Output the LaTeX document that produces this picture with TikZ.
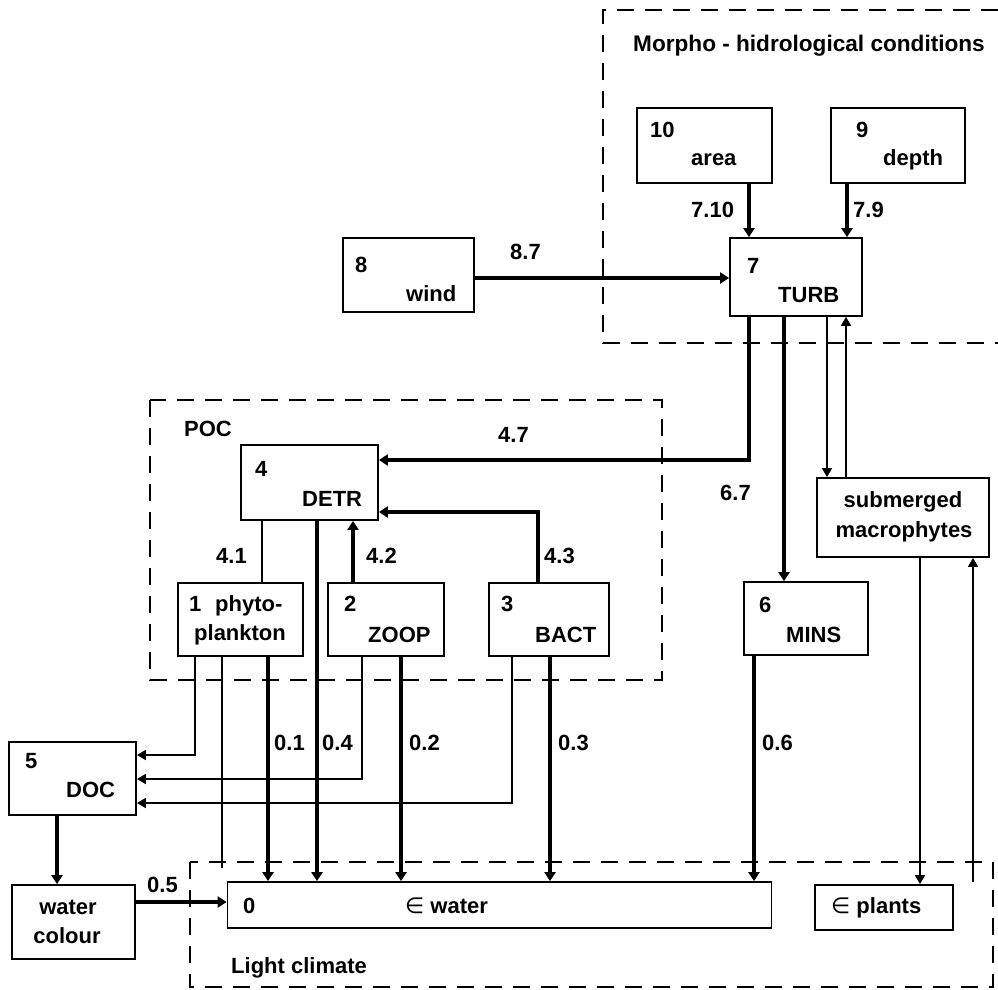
\documentclass[tikz,border=0pt]{standalone}
\usepackage{fontspec}
\setmainfont{Liberation Sans}
\newfontfamily\symfont{DejaVu Sans}
\usetikzlibrary{arrows.meta}
\tikzset{
  mbox/.style 2 args={rectangle, draw=black, fill=white, line width=1.8pt,
                      inner sep=0pt, minimum width=#1, minimum height=#2},
  mtext/.style ={anchor=base west, inner sep=0pt,
                 font=\fontsize{22}{25}\selectfont\bfseries},
  mctext/.style={mtext, anchor=base},
  mflow/.style ={-{Triangle[length=9pt,width=11pt]}, line width=4.5pt},
  mthin/.style ={line width=1.6pt},
  mthinflow/.style={mthin, -{Triangle[length=9pt,width=10pt]}},
  mregion/.style={line width=1.6pt, dash pattern=on 17pt off 11pt},
}

\begin{document}
\begin{tikzpicture}[x=1pt, y=-1pt]
\useasboundingbox (0,0) rectangle (998,989);
% regions
\draw[mregion] (998,10) -- (603,10) -- (603,343) -- (998,343);
\draw[mregion] (150,400) rectangle (662,680);
\draw[mregion] (190,862) rectangle (993,987);
\node[mtext, font=\fontsize{22.6}{26}\selectfont\bfseries] (morphoT) at (633,51)
  {Morpho - hidrological conditions};
\node[mtext] (pocT)    at (184,436) {POC};
\node[mtext] (lightT)  at (231,973) {Light climate};
% boxes
\node[mbox={135pt}{75pt}]  (area)    at (704.5,145.5) {};
\node[mbox={134pt}{75pt}]  (depth)   at (898,145.5) {};
\node[mbox={132pt}{78pt}]  (turb)    at (796,277) {};
\node[mbox={131pt}{74pt}]  (wind)    at (408.5,275) {};
\node[mbox={137pt}{75pt}]  (detr)    at (309.5,482.5) {};
\node[mbox={125pt}{73pt}]  (phyto)   at (240.5,619.5) {};
\node[mbox={116pt}{73pt}]  (zoop)    at (386,619.5) {};
\node[mbox={120pt}{73pt}]  (bact)    at (549,619.5) {};
\node[mbox={124pt}{73pt}]  (mins)    at (806,618.5) {};
\node[mbox={172pt}{79pt}]  (macro)   at (903,517.5) {};
\node[mbox={127pt}{73pt}]  (doc)     at (72.5,778.5) {};
\node[mbox={123pt}{74pt}]  (colour)  at (73.5,922) {};
\node[mbox={544pt}{46pt}]  (ewater)  at (499.5,905) {};
\node[mbox={138pt}{45pt}]  (eplants) at (884,907.5) {};
% box texts
\node[mtext] (areaN)   at (650,137) {10};
\node[mtext] (areaT)   at (691,165) {area};
\node[mtext] (depthN)  at (856,137) {9};
\node[mtext] (depthT)  at (883,165) {depth};
\node[mtext] (turbN)   at (747,273) {7};
\node[mtext] (turbT)   at (778,302) {TURB};
\node[mtext] (windN)   at (355,272) {8};
\node[mtext] (windT)   at (406,301) {wind};
\node[mtext] (detrN)   at (255,476) {4};
\node[mtext] (detrT)   at (302,506) {DETR};
\node[mtext] (phytoN)  at (189,611) {1};
\node[mtext] (phytoT)  at (215,611) {phyto-};
\node[mtext] (phytoT2) at (194,640) {plankton};
\node[mtext] (zoopN)   at (344,611) {2};
\node[mtext] (zoopT)   at (368,642) {ZOOP};
\node[mtext] (bactN)   at (501,611) {3};
\node[mtext] (bactT)   at (535,642) {BACT};
\node[mtext] (minsN)   at (759,612) {6};
\node[mtext] (minsT)   at (786,642) {MINS};
\node[mctext] (macroT)  at (903,507) {submerged};
\node[mctext] (macroT2) at (904,537) {macrophytes};
\node[mtext] (docN)    at (25,768) {5};
\node[mtext] (docT)    at (66,797) {DOC};
\node[mctext] (colourT)  at (68,914) {water};
\node[mctext] (colourT2) at (67,943) {colour};
\node[mtext] (ewaterN) at (243,913) {0};
\node[mtext] (ewaterT) at (405,913) {{\symfont\mdseries ∈} water};
\node[mtext] (eplantsT) at (831,913) {{\symfont\mdseries ∈} plants};
% connector positions
\foreach \n/\x in {xa/749, xb/847, x42/353, x43/538, x41/262, x67/784,
                   xm1/827, xm2/846, xm3/920, xd1/195, xd2/362, xd3/512,
                   x01/268, x04/317, x02/401, x03/550, x06/754, x05/57}
  \coordinate (\n) at (\x,0);
\foreach \n/\y in {y87/278, y47/460, y43/512, yd1/755, yd2/779, yd3/803, y05/902}
  \coordinate (\n) at (0,\y);
\coordinate (pend) at (222,868);
\coordinate (mend) at (973,882);
% flows
\draw[mflow] (area.south -| xa) -- (turb.north -| xa);
\draw[mflow] (depth.south -| xb) -- (turb.north -| xb);
\draw[mflow] (wind.east |- y87) -- (turb.west |- y87);
\draw[mflow] (turb.south -| xa) |- (detr.east |- y47);
\draw[mflow] (bact.north -| x43) |- (detr.east |- y43);
\draw[mflow] (zoop.north -| x42) -- (detr.south -| x42);
\draw[mthin] (detr.south -| x41) -- (phyto.north -| x41);
\draw[mflow] (turb.south -| x67) -- (mins.north -| x67);
\draw[mthinflow] (turb.south -| xm1) -- (macro.north -| xm1);
\draw[mthinflow] (macro.north -| xm2) -- (turb.south -| xm2);
\draw[mthinflow] (macro.south -| xm3) -- (eplants.north -| xm3);
\draw[mthinflow] (mend) -- (macro.south -| mend);
\draw[mthinflow] (phyto.south -| xd1) |- (doc.east |- yd1);
\draw[mthinflow] (zoop.south -| xd2) |- (doc.east |- yd2);
\draw[mthinflow] (bact.south -| xd3) |- (doc.east |- yd3);
\draw[mthin] (phyto.south -| pend) -- (pend);
\draw[mflow] (phyto.south -| x01) -- (ewater.north -| x01);
\draw[mflow] (detr.south -| x04) -- (ewater.north -| x04);
\draw[mflow] (zoop.south -| x02) -- (ewater.north -| x02);
\draw[mflow] (bact.south -| x03) -- (ewater.north -| x03);
\draw[mflow] (mins.south -| x06) -- (ewater.north -| x06);
\draw[mflow] (doc.south -| x05) -- (colour.north -| x05);
\draw[mflow] (colour.east |- y05) -- (ewater.west |- y05);
% flow labels
\node[mtext] (l710) at (691,217) {7.10};
\node[mtext] (l79)  at (853,217) {7.9};
\node[mtext] (l87)  at (510,259) {8.7};
\node[mtext] (l47)  at (498,442) {4.7};
\node[mtext] (l41)  at (216,563) {4.1};
\node[mtext] (l42)  at (366,563) {4.2};
\node[mtext] (l43)  at (544,563) {4.3};
\node[mtext] (l67)  at (720,500) {6.7};
\node[mtext] (l01)  at (274,750) {0.1};
\node[mtext] (l04)  at (322,750) {0.4};
\node[mtext] (l02)  at (409,750) {0.2};
\node[mtext] (l03)  at (558,750) {0.3};
\node[mtext] (l06)  at (762,750) {0.6};
\node[mtext] (l05)  at (147,892) {0.5};
\end{tikzpicture}
\end{document}
